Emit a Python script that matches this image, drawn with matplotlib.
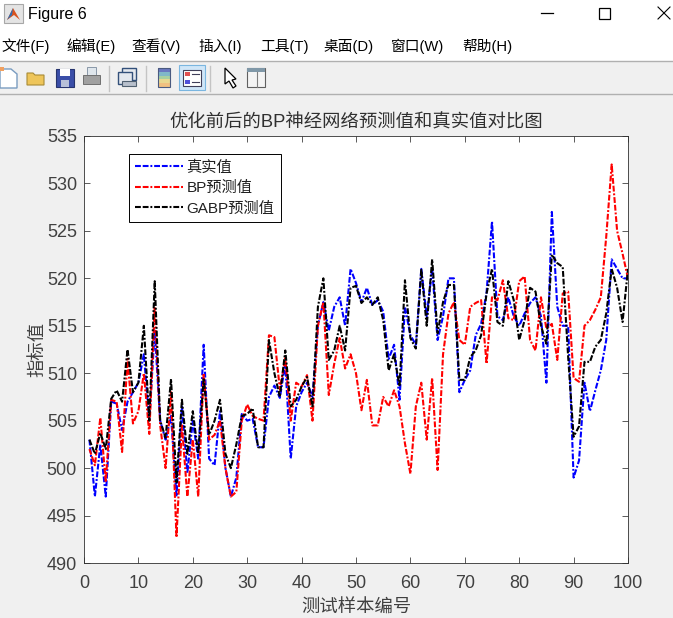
import matplotlib
matplotlib.use('Agg')
import matplotlib.pyplot as plt
from matplotlib.patches import Rectangle, Polygon

W, H = 673, 618

# values
sample_ids = list(range(1, 101))
true_vals = [503, 497, 502.5, 497, 507, 506.8, 504, 507, 508, 509,
             512, 505, 514.5, 505, 503, 505.5, 497, 506.5, 499.5, 505,
             501, 513, 501, 500.3, 506, 500, 497, 499, 505.7, 505,
             505.2, 502.2, 502.2, 507.5, 508.7, 507.4, 511, 501, 506.5, 508,
             509, 507.5, 515, 517.5, 514.5, 517, 518, 515, 521, 519.5,
             517.5, 519, 517.2, 517.7, 516.5, 511.5, 513, 507.2, 517, 514,
             513, 521, 516, 521, 513.5, 516, 520, 520, 508, 509.3,
             510.3, 514, 515.2, 518.5, 526, 516, 515.6, 518, 516, 515,
             516.3, 517.4, 518, 516, 509, 527, 517, 515, 515, 499,
             500.8, 509, 506, 508.2, 510.3, 513.5, 522, 521, 520, 520]
bp_vals = [502, 500.3, 505.3, 498.5, 507.2, 507, 501.7, 511.5, 504.7, 506,
           510, 503.6, 517, 504.5, 500, 508, 492.7, 504.5, 497, 503,
           497, 510, 503, 503.5, 505, 500, 497, 497.5, 505, 506.7,
           505.5, 505.2, 505, 514, 513.8, 508.3, 511.6, 505, 509, 508.6,
           509.8, 505, 515, 517.5, 507.7, 511, 513.7, 510.5, 512, 510,
           506.1, 509.3, 504.5, 504.5, 507.5, 506.5, 508.2, 506.5, 502.6, 499.4,
           506.5, 509, 503, 509.5, 499.8, 512, 516.3, 517.5, 513.5, 513,
           517, 517.4, 517.7, 511, 518, 517.7, 519.8, 515.8, 515.6, 519.7,
           520.2, 513.5, 512.4, 518, 514.7, 515.2, 511.4, 518.4, 518.6, 509.5,
           509.1, 515, 515.6, 516.7, 518, 524.4, 532, 525, 522.6, 520]
gabp_vals = [503, 501.5, 503.7, 502, 507.3, 508.2, 507, 512.5, 508, 509,
             515, 505, 519.7, 505, 503.2, 509.4, 498.5, 507.2, 501.5, 506,
             501.5, 509.5, 503.5, 505, 507.2, 501.5, 500, 502.5, 505.5, 505.7,
             506.3, 502.2, 502.2, 513.5, 510, 507.5, 512.4, 506.5, 507.2, 508.6,
             509.6, 506.5, 517, 520, 511.4, 512.4, 515, 512.4, 519, 519.2,
             517.4, 518, 517.2, 518, 515.6, 510.3, 512, 508.6, 519.8, 513.7,
             512.6, 520.9, 515, 522, 514.2, 517.5, 519.3, 519.3, 509.3, 509.3,
             511.7, 512.4, 514, 518.4, 521, 515.4, 515, 519.7, 517.7, 513.5,
             515.6, 519, 518.6, 515, 513.1, 522.5, 521.6, 521.2, 511.7, 503.3,
             504.4, 511.2, 511.2, 512.8, 513.5, 516.3, 521, 519, 515.4, 521]

series_names = ['真实值', 'BP预测值', 'GABP预测值']
menu_items = ['文件(F)', '编辑(E)', '查看(V)', '插入(I)', '工具(T)', '桌面(D)', '窗口(W)', '帮助(H)']
menu_x = [1, 66, 131, 198, 260, 324, 391, 462]
yticks = list(range(490, 536, 5))
xticks = list(range(0, 101, 10))
bar_colors = ['#6a78c0', '#80b8c8', '#a8d0a0', '#e8d890', '#f0c080']

plt.rcParams['font.family'] = ['Liberation Sans', 'Noto Sans CJK SC']

fig = plt.figure(figsize=(W / 100, H / 100), dpi=100, facecolor='#f0f0f0')

# window chrome drawn in pixel coordinates
chrome = fig.add_axes([0, 0, 1, 1])
chrome.set_xlim(0, W)
chrome.set_ylim(H, 0)
chrome.axis('off')
chrome.add_patch(Rectangle((0, 0), W, 61, fc='white', ec='none'))
chrome.plot([0, W], [61, 61], color='#b0b0b0', lw=1)
chrome.plot([0, W], [94, 94], color='#b0b0b0', lw=1)

# title bar
chrome.add_patch(Rectangle((4, 4), 19, 19, fc='#e4e4e4', ec='#a8a8a8', lw=0.8))
chrome.add_patch(Polygon([[7, 20], [13, 8], [20, 20], [14, 15]], fc='#d9531e', ec='none'))
chrome.add_patch(Polygon([[7, 20], [13, 8], [12, 15]], fc='#2f6fb5', ec='none'))
chrome.text(28, 14, 'Figure 6', fontsize=11.5, va='center', ha='left', color='black')
chrome.plot([541, 553], [12.5, 12.5], color='black', lw=0.9)
chrome.add_patch(Rectangle((599, 8), 11, 11, fc='none', ec='black', lw=0.9))
chrome.plot([658, 670], [7, 19], color='black', lw=0.8)
chrome.plot([658, 670], [19, 7], color='black', lw=0.8)

for label, x in zip(menu_items, menu_x):
    chrome.text(x, 46.5, label, fontsize=10.6, va='center', ha='left', color='black')

# toolbar icons
chrome.add_patch(Polygon([[0, 69], [11, 69], [17, 74], [17, 88], [0, 88]], fc='white', ec='#7a9cc0', lw=1))
chrome.add_patch(Rectangle((0, 67), 4, 4, fc='#f0a060', ec='none'))
chrome.add_patch(Polygon([[27, 85], [27, 73], [33, 73], [35, 75], [44, 75], [44, 85]],
                         fc='#eec55a', ec='#a88a35', lw=0.8))
chrome.add_patch(Rectangle((56, 69), 18, 18, fc='#3a4ea8', ec='#27346e', lw=0.8))
chrome.add_patch(Rectangle((60, 69), 10, 7, fc='white', ec='none'))
chrome.add_patch(Rectangle((61, 80), 8, 7, fc='#b8c0d8', ec='none'))
chrome.add_patch(Rectangle((87, 67), 9, 8, fc='#dfe6ec', ec='#8a98a8', lw=0.7))
chrome.add_patch(Rectangle((83, 75), 17, 9, fc='#a0a0a0', ec='#707070', lw=0.7))
chrome.add_patch(Rectangle((122, 68), 14, 12, fc='#e4e8ee', ec='#33507a', lw=1))
chrome.add_patch(Rectangle((118, 72), 14, 12, fc='#e4e8ee', ec='#33507a', lw=1))
chrome.add_patch(Rectangle((122, 81), 14, 5, fc='#b8c0cc', ec='#506070', lw=0.8))
for i, c in enumerate(bar_colors):
    chrome.add_patch(Rectangle((158, 68 + i * 3.8), 12, 3.8, fc=c, ec='none'))
chrome.add_patch(Rectangle((158, 68), 12, 19, fc='none', ec='#4a5a80', lw=0.8))
chrome.add_patch(Rectangle((179, 65), 26, 25, fc='#cfe6f8', ec='#7ab6e0', lw=0.8))
chrome.add_patch(Rectangle((183, 70), 18, 16, fc='white', ec='#40405a', lw=0.8))
chrome.add_patch(Rectangle((185, 72), 5, 4, fc='#e05050', ec='none'))
chrome.add_patch(Rectangle((185, 80), 5, 4, fc='#5050d8', ec='none'))
chrome.plot([192, 199], [74, 74], color='#40405a', lw=0.8)
chrome.plot([192, 199], [82, 82], color='#40405a', lw=0.8)
chrome.add_patch(Polygon([[225, 68], [225, 84], [229, 81], [233, 88], [236, 86], [232, 80], [236, 79]],
                         fc='white', ec='black', lw=0.9))
chrome.add_patch(Rectangle((247, 68), 18, 19, fc='#f4f4f4', ec='#606060', lw=0.8))
chrome.add_patch(Rectangle((247, 68), 18, 4, fc='#8098a8', ec='none'))
chrome.plot([257, 257], [72, 87], color='#808080', lw=0.8)
for sep in [109, 146, 210]:
    chrome.plot([sep, sep], [66, 91], color='#c4c4c4', lw=1)

# main axes
ax = fig.add_axes([84 / W, 1 - 563 / H, (628 - 84) / W, (563 - 136) / H])
dash = (0, (2.8, 0.9, 2.8, 0.9, 0.9, 0.9))
ax.plot(sample_ids, true_vals, color='#0000ff', ls=dash, lw=1.5, label=series_names[0])
ax.plot(sample_ids, bp_vals, color='#ff0000', ls=dash, lw=1.5, label=series_names[1])
ax.plot(sample_ids, gabp_vals, color='black', ls=dash, lw=1.5, label=series_names[2])
ax.set_xlim(0, 100)
ax.set_ylim(490, 535)
ax.set_xticks(xticks)
ax.set_yticks(yticks)
ax.tick_params(direction='in', top=True, right=True, length=4, width=0.6,
               labelsize=13, colors='#404040')
ax.tick_params(axis='x', pad=9)
ax.tick_params(axis='y', pad=5)
for spine in ax.spines.values():
    spine.set_linewidth(0.6)
    spine.set_color('#303030')
ax.set_title('优化前后的BP神经网络预测值和真实值对比图', fontsize=13.2, color='#303030', pad=6)
ax.set_xlabel('测试样本编号', fontsize=13.2, color='#404040', labelpad=5)
ax.set_ylabel('指标值', fontsize=13.2, color='#404040', labelpad=0)
leg = ax.legend(loc='upper left', bbox_to_anchor=(45 / 544, 1 - 18 / 427), fontsize=11,
                fancybox=False, framealpha=1, edgecolor='black', borderaxespad=0,
                borderpad=0.42, labelspacing=0.42, handlelength=3.1, handletextpad=0.25,
                labelcolor='#202020')
leg.get_frame().set_linewidth(0.7)

fig.savefig('out.png', dpi=100, facecolor=fig.get_facecolor())
